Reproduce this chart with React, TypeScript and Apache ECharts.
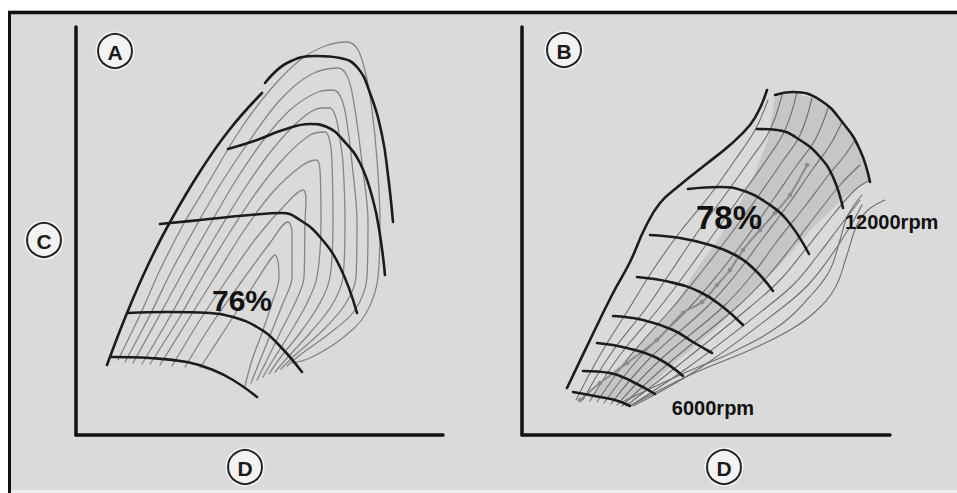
import React, { useEffect, useRef } from "react";
import * as echarts from "echarts";

type Pt = [number, number];

// ---------- Panel A (arbitrary units: flow along D, pressure ratio along C) ----------
const surgeA: Pt[] = [[31, 70], [51, 122], [72, 170], [94, 213], [125, 265], [154, 306], [186, 342]];
const speedA1: Pt[] = [[189, 352], [211, 372], [241, 379], [264, 377], [281, 368], [294, 342], [306, 300], [312, 260], [317, 213]];
const speedA2: Pt[] = [[152, 286], [181, 295], [207, 305], [234, 311], [251, 308], [267, 295], [284, 272], [297, 235], [304, 200], [309, 160]];
const speedA3: Pt[] = [[84, 211], [124, 215], [174, 220], [206, 222], [224, 215], [244, 198], [264, 168], [281, 122]];
const speedA4: Pt[] = [[52, 122], [91, 123], [134, 122], [157, 118], [181, 108], [201, 92], [226, 63]];
const speedA5: Pt[] = [[36, 78], [74, 77], [111, 73], [137, 65], [157, 55], [181, 38]];

const effA0: Pt[] = [[124, 67], [152, 110], [179, 152], [194, 175], [199, 180], [202, 173], [203, 158], [196, 132], [186, 102], [176, 75], [169, 49]];
const effA1: Pt[] = [[109, 68], [137, 113], [166, 154], [194, 192], [212, 213], [216, 203], [216, 158], [207, 132], [195, 102], [183, 72], [175, 52]];
const effA2: Pt[] = [[96, 69], [124, 115], [152, 157], [181, 198], [209, 230], [227, 245], [230, 235], [229, 213], [228, 158], [219, 132], [204, 102], [190, 73], [181, 55]];
const effA3: Pt[] = [[84, 70], [112, 115], [139, 158], [167, 203], [196, 242], [224, 268], [240, 275], [244, 265], [245, 213], [241, 158], [231, 132], [214, 102], [197, 75], [187, 58]];
const effA4: Pt[] = [[74, 71], [102, 115], [127, 159], [154, 203], [182, 245], [209, 278], [234, 300], [249, 303], [254, 293], [256, 272], [257, 213], [254, 158], [244, 132], [224, 102], [204, 77], [193, 61]];
const effA5: Pt[] = [[66, 71], [92, 115], [117, 160], [142, 203], [169, 247], [196, 285], [224, 315], [246, 327], [254, 327], [260, 317], [264, 295], [267, 272], [269, 213], [267, 158], [256, 130], [234, 102], [212, 78], [199, 63]];
const effA6: Pt[] = [[57, 72], [82, 117], [107, 163], [131, 205], [157, 250], [186, 293], [214, 325], [242, 343], [257, 345], [266, 335], [272, 305], [276, 272], [281, 213], [280, 158], [268, 129], [244, 102], [219, 80], [205, 66]];
const effA7: Pt[] = [[49, 73], [74, 120], [96, 165], [119, 207], [144, 250], [174, 295], [204, 335], [234, 360], [262, 367], [272, 357], [279, 325], [286, 272], [292, 213], [291, 158], [279, 125], [254, 102], [224, 80], [211, 69]];
const effA8: Pt[] = [[42, 75], [64, 120], [84, 165], [107, 210], [131, 250], [164, 305], [194, 345], [224, 375], [249, 389], [271, 393], [282, 385], [290, 360], [296, 325], [301, 275], [304, 213], [302, 158], [289, 120], [264, 95], [234, 77], [217, 72]];

// ---------- Panel B ----------
const surgeB: Pt[] = [[45, 47], [68, 95], [90, 140], [108, 173], [123, 207], [138, 232], [158, 250], [183, 270], [208, 290], [228, 310], [238, 327], [245, 345]];
const speedB1: Pt[] = [[51, 43], [78, 38], [96, 34], [108, 29]];
const speedB2: Pt[] = [[61, 64], [88, 62], [111, 53], [133, 41]];
const speedB3: Pt[] = [[75, 92], [105, 87], [135, 77], [161, 59]];
const speedB4: Pt[] = [[91, 119], [121, 115], [151, 105], [171, 93], [190, 82]];
const speedB5: Pt[] = [[115, 158], [148, 153], [178, 143], [201, 128], [221, 110]];
const speedB6: Pt[] = [[128, 200], [158, 197], [188, 190], [213, 180], [233, 165], [251, 144]];
const speedB7: Pt[] = [[166, 246], [198, 248], [225, 243], [245, 232], [265, 215], [287, 181]];
const speedB8: Pt[] = [[235, 306], [255, 305], [278, 295], [298, 278], [311, 258], [321, 227]];
const speedB9: Pt[] = [[253, 340], [271, 343], [298, 335], [321, 312], [338, 285], [348, 253]];

const effB0: Pt[] = [[54, 35], [78, 80], [108, 128], [131, 165], [158, 203], [188, 240], [213, 275], [233, 305], [246, 335]];
const effB1: Pt[] = [[61, 35], [88, 80], [125, 128], [150, 165], [175, 202], [203, 240], [228, 275], [248, 305], [260, 340]];
const effB2: Pt[] = [[68, 34], [98, 80], [138, 128], [166, 165], [191, 200], [218, 238], [243, 273], [263, 305], [275, 343]];
const effB3: Pt[] = [[75, 33], [108, 79], [151, 128], [181, 165], [208, 200], [235, 237], [260, 273], [278, 300], [290, 337]];
const effB4: Pt[] = [[82, 32], [118, 78], [168, 128], [198, 163], [225, 198], [251, 235], [275, 270], [293, 295], [306, 327]];
const effB5: Pt[] = [[89, 31], [128, 77], [185, 128], [215, 162], [241, 197], [268, 233], [290, 265], [308, 290], [320, 313]];
const effB6: Pt[] = [[95, 30], [138, 75], [201, 128], [230, 160], [256, 195], [284, 230], [305, 258], [323, 280], [333, 295]];
const effB7: Pt[] = [[100, 29], [148, 73], [215, 128], [245, 158], [271, 190], [298, 225], [318, 250], [338, 270]];
const effB8: Pt[] = [[104, 29], [158, 71], [228, 128], [258, 155], [283, 185], [311, 220], [333, 245], [348, 255]];
const effB9: Pt[] = [[108, 29], [168, 69], [245, 128], [273, 152], [296, 180], [321, 213], [338, 235]];
const effB10: Pt[] = [[111, 29], [178, 67], [261, 128], [286, 150], [306, 175], [326, 205], [340, 230]];
const edgeB1: Pt[] = [[98, 32], [158, 60], [215, 85], [261, 112], [291, 142], [308, 165], [318, 195], [326, 220], [340, 240]];
const edgeB2: Pt[] = [[108, 29], [168, 60], [228, 85], [268, 105], [293, 123], [313, 147], [325, 180], [335, 210], [346, 225], [363, 235]];
const bandB: Pt[] = [[66, 37], [96, 68], [129, 102], [156, 135], [176, 168], [196, 195], [216, 228], [233, 262], [246, 295], [253, 338], [271, 342], [298, 335], [321, 312], [338, 285], [346, 255], [319, 235], [289, 205], [256, 168], [223, 135], [189, 102], [156, 75], [113, 35]];
const operatingB: Pt[] = [[58, 35], [78, 52], [105, 72], [135, 95], [161, 122], [180, 133], [195, 150], [208, 165], [221, 185], [238, 205], [253, 222], [268, 240], [285, 270]];

// ---------- labels ----------
const peakA = { text: "76%", at: [166, 135] as Pt };
const peakB = { text: "78%", at: [207, 218] as Pt };
const rpmHigh = { text: "12000rpm", at: [323, 213] as Pt };
const rpmLow = { text: "6000rpm", at: [191, 27] as Pt };
const circled = ["A", "B", "C", "D"];

const FONT = "'Liberation Sans', Arial, sans-serif";

function line(data: Pt[], idx: number, color: string, width: number, z: number, smooth = 0.45) {
  return {
    type: "line",
    xAxisIndex: idx,
    yAxisIndex: idx,
    data,
    smooth,
    symbol: "none",
    silent: true,
    z,
    lineStyle: { color, width, cap: "round" },
  };
}

function textSeries(idx: number, item: { text: string; at: Pt }, size: number, position: string) {
  return {
    type: "scatter",
    xAxisIndex: idx,
    yAxisIndex: idx,
    symbolSize: 0,
    silent: true,
    z: 20,
    itemStyle: { opacity: 1 },
    data: [
      {
        value: item.at,
        label: {
          show: true,
          formatter: item.text,
          position,
          distance: 0,
          color: "#111111",
          opacity: 1,
          fontSize: size,
          fontWeight: "bold",
          fontFamily: FONT,
        },
      },
    ],
  };
}

function circleLabel(letter: string, cx: number, cy: number) {
  return {
    type: "group",
    x: cx,
    y: cy,
    children: [
      { type: "circle", shape: { cx: 0, cy: 0, r: 19.5 }, style: { fill: "#f6f6f6", stroke: null } },
      { type: "circle", shape: { cx: 0, cy: 0, r: 17 }, style: { fill: "#f3f3f3", stroke: "#222", lineWidth: 2 } },
      {
        type: "text",
        x: 0,
        y: 1,
        style: { text: letter, fill: "#1a1a1a", font: `bold 21px ${FONT}`, align: "center", verticalAlign: "middle" },
      },
    ],
  };
}

function axisPair(idx: number, maxX: number, maxY: number) {
  const lineStyle = { color: "#111", width: 3.5 };
  return {
    x: {
      type: "value", gridIndex: idx, min: 0, max: maxX,
      axisLine: { show: true, onZero: false, lineStyle },
      axisTick: { show: false }, axisLabel: { show: false }, splitLine: { show: false },
    },
    y: {
      type: "value", gridIndex: idx, min: 0, max: maxY,
      axisLine: { show: true, onZero: false, lineStyle },
      axisTick: { show: false }, axisLabel: { show: false }, splitLine: { show: false },
    },
  };
}

export default function App() {
  const ref = useRef<HTMLDivElement>(null);
  useEffect(() => {
    if (!ref.current) return;
    const chart = echarts.init(ref.current, undefined, { renderer: "svg" });
    const a = axisPair(0, 367, 408);
    const b = axisPair(1, 368, 408);
    const thick = "#1c1c1c";
    const thinA = "#858585";
    const thinB = "#6e6e6e";
    const effAll = [effA0, effA1, effA2, effA3, effA4, effA5, effA6, effA7, effA8];
    const speedAAll = [speedA1, speedA2, speedA3, speedA4, speedA5];
    const effBAll = [effB0, effB1, effB2, effB3, effB4, effB5, effB6, effB7, effB8, effB9, effB10, edgeB1, edgeB2];
    const speedBAll = [speedB1, speedB2, speedB3, speedB4, speedB5, speedB6, speedB7, speedB8, speedB9];

    const series: any[] = [];
    effAll.forEach((d) => series.push(line(d, 0, thinA, 1.3, 3, 0.35)));
    speedAAll.forEach((d) => series.push(line(d, 0, thick, 2.6, 6)));
    series.push(line(surgeA, 0, thick, 2.6, 6));

    series.push({
      type: "custom",
      xAxisIndex: 1,
      yAxisIndex: 1,
      silent: true,
      z: 1,
      data: bandB,
      renderItem: (params: any, api: any) => {
        if (params.dataIndex !== 0) return null;
        return {
          type: "polygon",
          shape: { points: bandB.map((p) => api.coord(p)) },
          style: { fill: "#c6c6c6", stroke: null },
        };
      },
    });
    effBAll.forEach((d) => series.push(line(d, 1, thinB, 1.1, 3, 0.4)));
    series.push({
      ...line(operatingB, 1, "#8c8c8c", 2, 4, 0.3),
      symbol: "circle",
      symbolSize: 4.5,
      showSymbol: true,
      itemStyle: { color: "#8c8c8c" },
    });
    speedBAll.forEach((d) => series.push(line(d, 1, thick, 2.6, 6)));
    series.push(line(surgeB, 1, thick, 2.6, 6));

    series.push(textSeries(0, peakA, 30, "inside"));
    series.push(textSeries(1, peakB, 33, "inside"));
    series.push(textSeries(1, rpmHigh, 20, "right"));
    series.push(textSeries(1, rpmLow, 20, "inside"));

    chart.setOption({
      animation: false,
      backgroundColor: "#dadada",
      grid: [
        { left: 76, top: 27, width: 367, height: 408 },
        { left: 522, top: 27, width: 368, height: 408 },
      ],
      xAxis: [a.x, b.x],
      yAxis: [a.y, b.y],
      series,
      graphic: [
        { type: "rect", shape: { x: 0, y: 0, width: 957, height: 10.5 }, style: { fill: "#ffffff" }, silent: true },
        { type: "rect", shape: { x: 0, y: 0, width: 8, height: 493 }, style: { fill: "#ffffff" }, silent: true },
        { type: "rect", shape: { x: 8, y: 490, width: 949, height: 3 }, style: { fill: "#ececec" }, silent: true },
        { type: "line", shape: { x1: 8, y1: 12.5, x2: 957, y2: 12.5 }, style: { stroke: "#111", lineWidth: 3.5 }, silent: true },
        { type: "line", shape: { x1: 9.5, y1: 11, x2: 9.5, y2: 493 }, style: { stroke: "#111", lineWidth: 3 }, silent: true },
        circleLabel(circled[0], 115, 51),
        circleLabel(circled[1], 564, 50),
        circleLabel(circled[2], 44, 240),
        circleLabel(circled[3], 245, 467),
        circleLabel(circled[3], 724, 467),
      ],
    });
    return () => chart.dispose();
  }, []);
  return <div ref={ref} style={{ position: "absolute", left: 0, top: 0, width: 957, height: 493 }} />;
}
